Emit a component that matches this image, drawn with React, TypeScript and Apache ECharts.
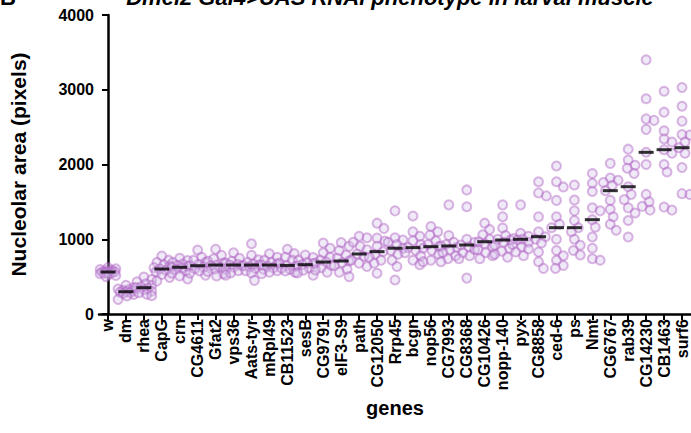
import React, { useEffect, useRef } from "react";
import * as echarts from "echarts";

const genes = [
  "w", "dm", "rhea", "CapG", "crn", "CG4611", "Gfat2", "vps36", "Aats-tyr", "mRpl49",
  "CB11523", "sesB", "CG9791", "eIF3-S9", "path", "CG12050", "Rrp45", "bcgn", "nop56", "CG7993",
  "CG8368", "CG10426", "nopp-140", "pyx", "CG8858", "ced-6", "ps", "Nmt", "CG6767", "rab39",
  "CG14230", "CB1463", "surf6",
];

const medians = [
  562, 298, 352, 602, 625, 646, 655, 655, 655, 655,
  650, 660, 695, 709, 803, 834, 880, 888, 901, 910,
  923, 967, 990, 999, 1034, 1155, 1155, 1262, 1650, 1703,
  2163, 2198, 2225,
];

const wVals = [620, 605, 595, 585, 578, 570, 565, 562, 558, 552, 545, 538, 528, 515, 500];
const dmVals = [385, 355, 335, 325, 315, 305, 298, 292, 285, 275, 260, 240, 195];
const rheaVals = [495, 460, 430, 405, 385, 365, 352, 340, 325, 305, 285, 265, 245];
const capgVals = [775, 720, 690, 660, 640, 620, 602, 585, 565, 530, 490, 440];
const crnVals = [745, 715, 690, 670, 650, 635, 625, 612, 595, 575, 545, 510, 470];
const cg4611Vals = [855, 760, 720, 690, 665, 646, 630, 605, 575, 545, 520];
const gfat2Vals = [865, 785, 740, 705, 680, 655, 645, 625, 600, 570, 540, 510];
const vps36Vals = [820, 745, 705, 680, 665, 655, 645, 625, 600, 580, 550, 520];
const aatsVals = [940, 785, 725, 690, 670, 655, 645, 630, 610, 580, 550, 450];
const mrpl49Vals = [805, 760, 720, 690, 670, 655, 640, 620, 600, 580, 560, 540];
const cb11523Vals = [865, 810, 760, 720, 680, 650, 635, 615, 595, 575, 555];
const sesbVals = [790, 755, 720, 690, 675, 660, 645, 615, 585, 550, 520];
const cg9791Vals = [950, 880, 820, 760, 720, 695, 680, 650, 620, 590, 560];
const eif3Vals = [955, 905, 850, 790, 745, 709, 685, 645, 600, 560, 500];
const pathVals = [1040, 1020, 960, 905, 860, 803, 770, 720, 680, 635];
const cg12050Vals = [1215, 1145, 1015, 975, 905, 834, 800, 760, 720, 680, 545];
const rrp45Vals = [1380, 1020, 990, 960, 930, 880, 850, 800, 720, 635, 455];
const bcgnVals = [1310, 1100, 1040, 980, 930, 888, 850, 820, 780, 720, 660];
const nop56Vals = [1170, 1100, 1055, 980, 930, 901, 880, 850, 800, 720, 700];
const cg7993Vals = [1460, 1050, 960, 930, 910, 890, 860, 820, 780, 740, 700];
const cg8368Vals = [1660, 1435, 1000, 960, 923, 900, 860, 820, 780, 740, 480];
const cg10426Vals = [1215, 1130, 1060, 1000, 967, 940, 900, 860, 820, 780, 740];
const nopp140Vals = [1460, 1300, 1150, 1050, 1000, 990, 960, 920, 880, 840, 800, 760];
const pyxVals = [1460, 1080, 1040, 1010, 999, 990, 960, 930, 900, 870, 830, 780];
const cg8858Vals = [1770, 1620, 1580, 1300, 1100, 1034, 1000, 950, 830, 700, 610];
const ced6Vals = [1980, 1770, 1700, 1520, 1300, 1200, 1155, 1000, 850, 780, 720, 650, 610];
const psVals = [1725, 1525, 1380, 1250, 1155, 1100, 1000, 920, 850, 790];
const nmtVals = [1880, 1750, 1640, 1420, 1380, 1262, 1160, 1030, 880, 740, 720];
const cg6767Vals = [2015, 1820, 1790, 1760, 1720, 1650, 1520, 1400, 1300, 1200, 1120];
const rab39Vals = [2205, 2060, 1990, 1950, 1880, 1703, 1600, 1530, 1420, 1350, 1250, 1030];
const cg14230Vals = [3400, 2880, 2610, 2590, 2470, 2163, 2000, 1600, 1500, 1440, 1390];
const cb1463Vals = [2980, 2700, 2450, 2340, 2300, 2198, 2150, 2000, 1900, 1430, 1390];
const surf6Vals = [3030, 2780, 2580, 2400, 2395, 2300, 2225, 2150, 1960, 1610, 1600];

const geneValues = [
  wVals, dmVals, rheaVals, capgVals, crnVals, cg4611Vals, gfat2Vals, vps36Vals, aatsVals, mrpl49Vals,
  cb11523Vals, sesbVals, cg9791Vals, eif3Vals, pathVals, cg12050Vals, rrp45Vals, bcgnVals, nop56Vals, cg7993Vals,
  cg8368Vals, cg10426Vals, nopp140Vals, pyxVals, cg8858Vals, ced6Vals, psVals, nmtVals, cg6767Vals, rab39Vals,
  cg14230Vals, cb1463Vals, surf6Vals,
];

const yTicks = [0, 1000, 2000, 3000, 4000];

const FONT = "'Liberation Sans', Arial, Helvetica, sans-serif";

// Simple beeswarm layout: offsets (in category units) so circles don't pile up.
function swarmOffsets(vals: number[], pxPerCat: number, pxPerUnit: number): number[] {
  const minDist = 8;
  const maxOff = 8;
  const step = 1;
  const order = vals.map((v, i) => i).sort((a, b) => vals[b] - vals[a]);
  const placed: { x: number; y: number }[] = [];
  const out = new Array(vals.length).fill(0);
  const cands: number[] = [0];
  for (let d = step; d <= maxOff; d += step) cands.push(d, -d);
  for (const idx of order) {
    const y = vals[idx] * pxPerUnit;
    let best = 0;
    let bestScore = -1;
    for (const c of cands) {
      let md = Infinity;
      for (const p of placed) {
        const dd = Math.hypot(p.x - c, p.y - y);
        if (dd < md) md = dd;
      }
      if (md >= minDist) {
        best = c;
        bestScore = Infinity;
        break;
      }
      if (md > bestScore) {
        bestScore = md;
        best = c;
      }
    }
    placed.push({ x: best, y });
    out[idx] = best / pxPerCat;
  }
  return out;
}

export default function App() {
  const ref = useRef<HTMLDivElement>(null);
  useEffect(() => {
    if (!ref.current) return;
    const chart = echarts.init(ref.current, undefined, { renderer: "svg" });
    const gridLeft = 88;
    const gridRight = 0;
    const gridTop = 15;
    const gridBottom = 119;
    const plotW = 691 - gridLeft - gridRight;
    const plotH = 433 - gridTop - gridBottom;
    const pxPerCat = plotW / genes.length;
    const pxPerUnit = plotH / 4000;

    const points: number[][] = [];
    geneValues.forEach((vals, gi) => {
      const offs = swarmOffsets(vals, pxPerCat, pxPerUnit);
      vals.forEach((v, k) => points.push([gi + offs[k], v]));
    });
    const medianData = medians.map((m, i) => [i, m]);

    chart.setOption({
      animation: false,
      textStyle: { fontFamily: FONT },
      grid: { left: gridLeft, right: gridRight, top: gridTop, bottom: gridBottom, containLabel: false },
      graphic: [
        {
          type: "text",
          x: 390,
          y: -3,
          style: {
            text: "Dmel2 Gal4>UAS RNAi phenotype in larval muscle",
            font: `italic bold 22px ${FONT}`,
            fill: "#000",
            textAlign: "center",
            textVerticalAlign: "middle",
          },
        },
        {
          type: "text",
          x: 0,
          y: -3,
          style: {
            text: "B",
            font: `bold 22px ${FONT}`,
            fill: "#000",
            textAlign: "left",
            textVerticalAlign: "middle",
          },
        },
      ],
      xAxis: [
        {
          type: "category",
          data: genes,
          boundaryGap: true,
          name: "genes",
          nameLocation: "middle",
          nameGap: 76,
          nameTextStyle: { fontSize: 20, fontWeight: "bold", color: "#000", fontFamily: FONT },
          axisLine: { show: true, lineStyle: { color: "#000", width: 2.5 } },
          axisTick: { show: true, alignWithLabel: true, length: 6, lineStyle: { color: "#000", width: 2 } },
          axisLabel: {
            rotate: 90,
            interval: 0,
            margin: 5,
            fontSize: 16,
            fontWeight: "bold",
            color: "#000",
            fontFamily: FONT,
          },
          splitLine: { show: false },
        },
        {
          type: "value",
          min: -0.5,
          max: genes.length - 0.5,
          show: false,
        },
      ],
      yAxis: {
        type: "value",
        min: yTicks[0],
        max: yTicks[yTicks.length - 1],
        interval: 1000,
        name: "Nucleolar area (pixels)",
        nameLocation: "middle",
        nameGap: 70,
        nameTextStyle: { fontSize: 21, fontWeight: "bold", color: "#000", fontFamily: FONT },
        axisLine: { show: true, lineStyle: { color: "#000", width: 2.5 } },
        axisTick: { show: true, length: 6, lineStyle: { color: "#000", width: 2 } },
        axisLabel: {
          fontSize: 16,
          fontWeight: "bold",
          color: "#000",
          margin: 5,
          fontFamily: FONT,
          formatter: (v: number) => String(v),
        },
        splitLine: { show: false },
      },
      series: [
        {
          type: "scatter",
          xAxisIndex: 1,
          data: points,
          symbol: "circle",
          symbolSize: 9,
          itemStyle: {
            color: "rgba(210,195,235,0.45)",
            borderColor: "rgba(172,92,192,0.55)",
            borderWidth: 2,
          },
          emphasis: { disabled: true },
          z: 2,
        },
        {
          type: "scatter",
          xAxisIndex: 1,
          data: medianData,
          symbol: "rect",
          symbolSize: [15, 3],
          itemStyle: { color: "#000" },
          emphasis: { disabled: true },
          z: 3,
        },
      ],
    });
    return () => chart.dispose();
  }, []);
  return (
    <div
      ref={ref}
      style={{ position: "fixed", left: 0, top: 0, width: 691, height: 433, background: "#fff" }}
    />
  );
}
